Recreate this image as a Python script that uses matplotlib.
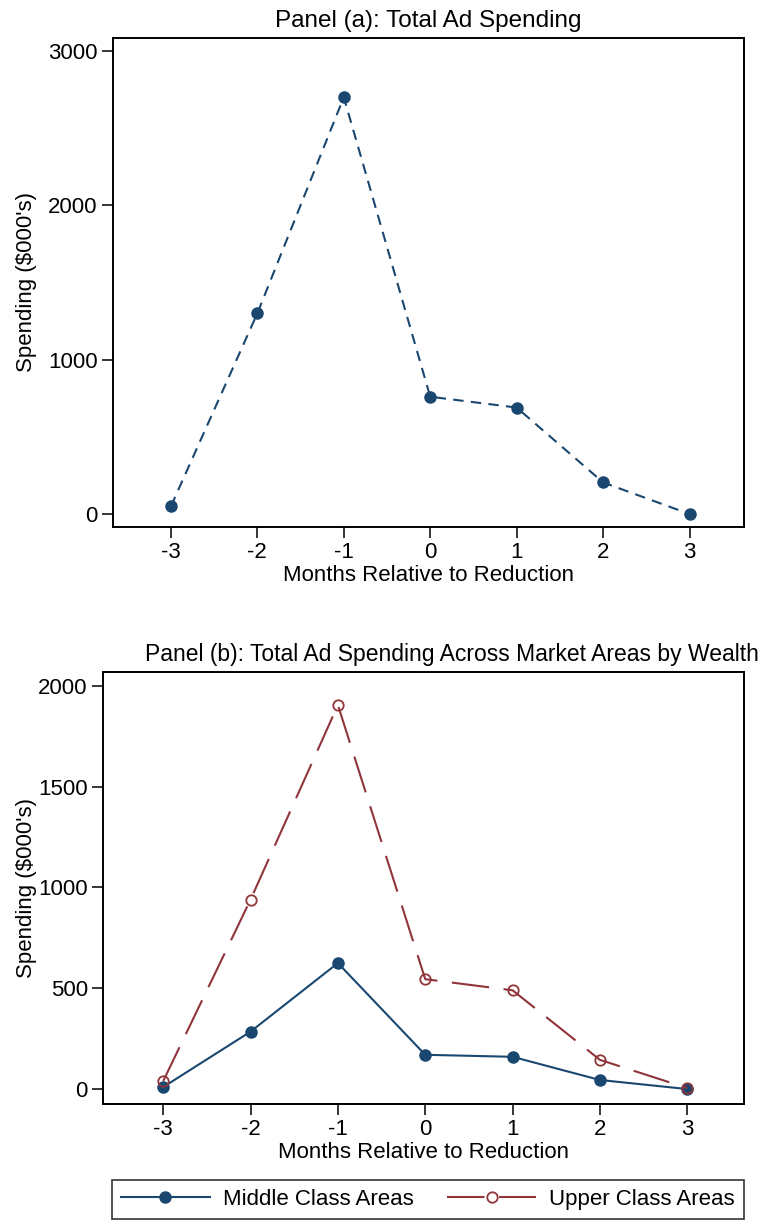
import numpy as np
import matplotlib
matplotlib.use('agg')
from matplotlib import pyplot as plt

plt.rcParams['font.family'] = ['Liberation Sans', 'DejaVu Sans']
plt.rcParams['axes.unicode_minus'] = False

months = [-3, -2, -1, 0, 1, 2, 3]
total_spend = [50, 1300, 2700, 760, 690, 205, 0]
middle_spend = [10, 285, 625, 170, 160, 45, 0]
upper_spend = [40, 940, 1905, 545, 490, 145, 5]

NAVY = '#1a476f'
MAROON = '#90353b'

fig = plt.figure(figsize=(7.64, 12.2), dpi=100)


def style_axes(ax, yticks, label_x):
    for s in ax.spines.values():
        s.set_linewidth(1.4)
    ax.set_xticks(months)
    ax.set_yticks(yticks)
    ax.tick_params(direction='out', length=8, width=1.1, labelsize=16, pad=3)
    ax.set_xlabel('Months Relative to Reduction', fontsize=16, labelpad=1)
    ax.set_ylabel("Spending ($000's)", fontsize=16)
    ax.yaxis.set_label_coords(label_x, 0.5)


# Panel (a)
ax1 = fig.add_axes([0.1479, 0.568, 0.8259, 0.4009])
ax1.plot(months, total_spend, color=NAVY, lw=1.5, dashes=(5, 3.5),
         marker='o', ms=8, mfc=NAVY, mec=NAVY)
ax1.set_xlim(-3.67, 3.63)
ax1.set_ylim(-84, 3084)
style_axes(ax1, [0, 1000, 2000, 3000], -0.120)
ax1.set_title('Panel (a): Total Ad Spending', fontsize=17.5, pad=8)

# Panel (b)
ax2 = fig.add_axes([0.1348, 0.0951, 0.839, 0.3541])
ax2.plot(months, middle_spend, color=NAVY, lw=1.5,
         marker='o', ms=8, mfc=NAVY, mec=NAVY, label='Middle Class Areas')
ax2.plot(months, upper_spend, color=MAROON, lw=1.5, dashes=(18, 7),
         marker='o', ms=7.5, mfc='none', mec=MAROON, mew=1.3, label='Upper Class Areas')
ax2.set_xlim(-3.69, 3.65)
ax2.set_ylim(-74, 2069)
style_axes(ax2, [0, 500, 1000, 1500, 2000], -0.103)
ax2.set_title('Panel (b): Total Ad Spending Across Market Areas by Wealth',
              fontsize=16.5, pad=8, x=0.544)

leg = fig.legend(loc='lower left', bbox_to_anchor=(0.1466, 0.0008, 0.8272, 0.034),
                 mode='expand', ncol=2, fontsize=16, frameon=True, fancybox=False,
                 edgecolor='black', handlelength=4.0, handletextpad=0.6,
                 borderaxespad=0, columnspacing=2)
leg.get_frame().set_linewidth(1.2)

fig.savefig('out.png', dpi=100)
